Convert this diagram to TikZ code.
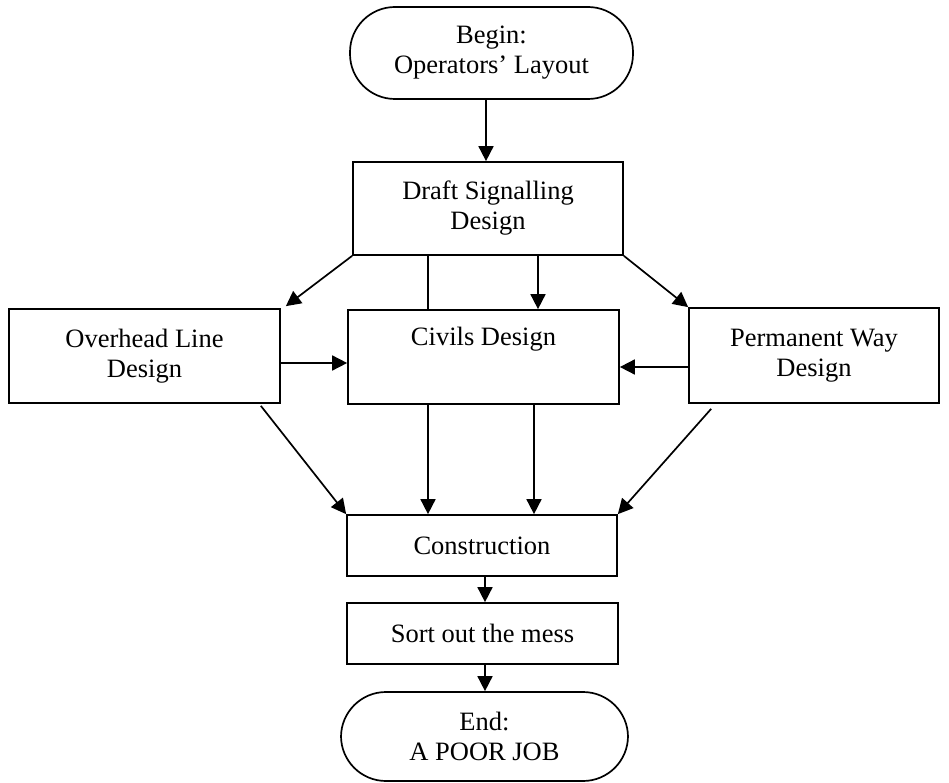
\documentclass[tikz,border=0pt]{standalone}
\usepackage{fontspec}
\setmainfont{Liberation Serif}
\usetikzlibrary{arrows.meta}
\begin{document}
\begin{tikzpicture}[x=1pt,y=-1pt,
  every node/.style={font=\fontsize{26.5}{30}\selectfont, align=center, inner sep=0pt},
  box/.style={draw, line width=1.7pt, rectangle},
  term/.style={draw, line width=1.7pt, rectangle, rounded corners=45pt},
  arr/.style={line width=1.7pt, -{Triangle[length=15pt,width=15pt]}},
  ln/.style={line width=1.7pt}]
\useasboundingbox (0,0) rectangle (949,783);
\node[term, minimum width=283pt, minimum height=92pt] (begin) at (491.5,53) {Begin:\\Operators’ Layout};
\node[box, minimum width=270pt, minimum height=93pt] (draft) at (488,208.5) {Draft Signalling\\Design};
\node[box, minimum width=271pt, minimum height=94pt] (overhead) at (144.5,356) {Overhead Line\\Design};
\node[box, minimum width=271pt, minimum height=94pt] (civils) at (483.5,357) {};
\node[anchor=base] (civilstext) at (483.5,345) {Civils Design};
\node[box, minimum width=250pt, minimum height=95pt] (perm) at (814,355.5) {Permanent Way\\Design};
\node[box, minimum width=270pt, minimum height=61pt] (constr) at (482,545.5) {Construction};
\node[box, minimum width=271pt, minimum height=61pt] (sort) at (482.5,633.5) {Sort out the mess};
\node[term, minimum width=287pt, minimum height=89pt] (end) at (484.5,736.5) {End:\\A POOR JOB};

\draw[arr] ([xshift=-5.5pt]begin.south) -- ([xshift=-5.5pt]begin.south |- draft.north);
\draw[arr] (draft.south west) -- ([xshift=5pt,yshift=2pt]overhead.north east);
\draw[ln] ([xshift=-60pt]draft.south) -- ([xshift=-60pt]draft.south |- civils.north);
\draw[arr] ([xshift=50pt]draft.south) -- ([xshift=50pt]draft.south |- civils.north);
\draw[arr] (draft.south east) -- (perm.north west);
\draw[arr] ([yshift=-7pt]overhead.east) -- ([yshift=-7pt]overhead.east -| civils.west);
\draw[arr] ([yshift=-11.5pt]perm.west) -- ([yshift=-11.5pt]perm.west -| civils.east);
\draw[arr] ([xshift=-20pt,yshift=-2pt]overhead.south east) -- (constr.north west);
\draw[arr] ([xshift=-55.5pt]civils.south) -- ([xshift=-55.5pt]civils.south |- constr.north);
\draw[arr] ([xshift=50.5pt]civils.south) -- ([xshift=50.5pt]civils.south |- constr.north);
\draw[arr] ([xshift=23pt,yshift=-5pt]perm.south west) -- (constr.north east);
\draw[arr] ([xshift=3pt]constr.south) -- ([xshift=3pt]constr.south |- sort.north);
\draw[arr] ([xshift=2.5pt]sort.south) -- ([xshift=2.5pt]sort.south |- end.north);
\end{tikzpicture}
\end{document}
